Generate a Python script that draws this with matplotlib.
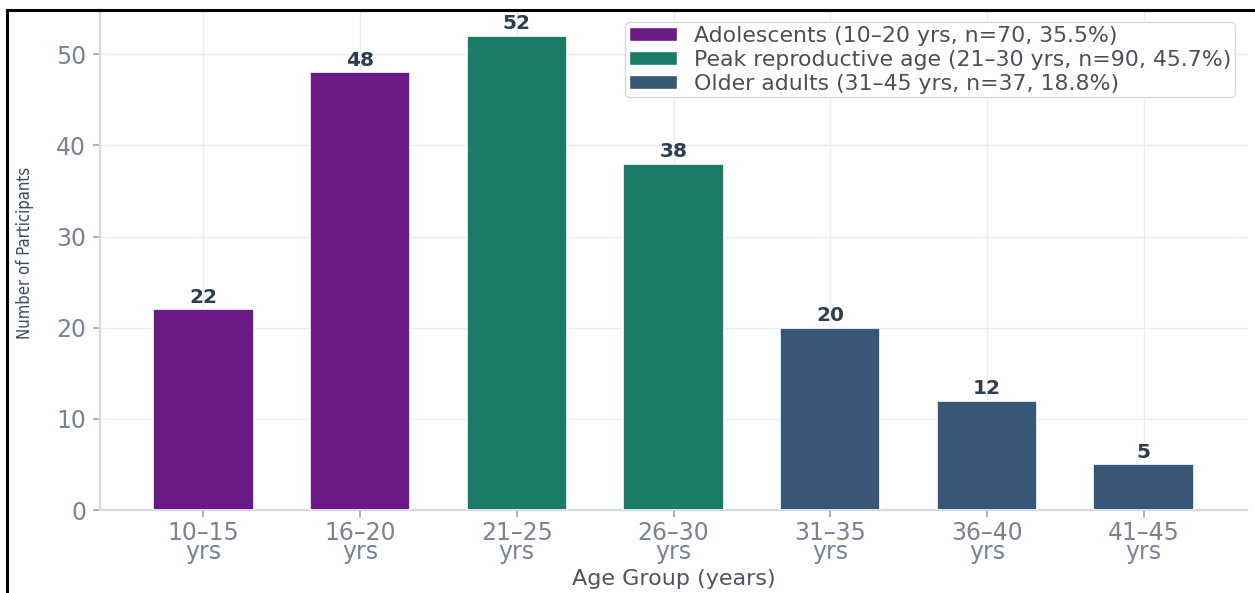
import matplotlib
matplotlib.use("Agg")
import matplotlib.pyplot as plt
import matplotlib.font_manager as fm
from matplotlib.lines import Line2D
from matplotlib.patches import Patch

# --- data ---
age_groups = ["10–15\nyrs", "16–20\nyrs", "21–25\nyrs", "26–30\nyrs",
              "31–35\nyrs", "36–40\nyrs", "41–45\nyrs"]
counts = [22, 48, 52, 38, 20, 12, 5]
group_of_bar = [0, 0, 1, 1, 2, 2, 2]

group_names = [
    "Adolescents (10–20 yrs, n=70, 35.5%)",
    "Peak reproductive age (21–30 yrs, n=90, 45.7%)",
    "Older adults (31–45 yrs, n=37, 18.8%)",
]
group_colors = ["#6a1a86", "#1b7a68", "#385776"]
y_ticks = [0, 10, 20, 30, 40, 50]

# pick a narrow face for the y label
fonts = fm.fontManager.ttflist
names = {f.name for f in fonts}
has_condensed = any(f.name == "DejaVu Sans" and f.stretch == "condensed"
                    for f in fonts)
if "Liberation Sans Narrow" in names:
    ylab_kw = dict(family="Liberation Sans Narrow", fontsize=14.5)
elif has_condensed:
    ylab_kw = dict(family="DejaVu Sans", stretch="condensed", fontsize=12)
else:
    ylab_kw = dict(family="DejaVu Sans", fontsize=11)

plt.rcParams["font.family"] = ["DejaVu Sans"]

fig = plt.figure(figsize=(12.55, 5.93), dpi=100)
ax = fig.add_axes([100 / 1255, 83 / 593, 1147 / 1255, 500 / 593])

x = list(range(len(counts)))
colors = [group_colors[g] for g in group_of_bar]
bars = ax.bar(x, counts, width=0.64, color=colors, edgecolor="white",
              linewidth=1.2, zorder=3)

# value labels on top of each bar
for b, v in zip(bars, counts):
    ax.annotate(str(v), (b.get_x() + b.get_width() / 2, v),
                xytext=(0, 2), textcoords="offset points",
                ha="center", va="bottom", fontsize=14.5, fontweight="bold",
                color="#2c3e50", zorder=4)

ax.set_xlim(-0.66, 6.66)
ax.set_ylim(0, 54.85)
ax.set_xticks(x)
ax.set_xticklabels(age_groups, linespacing=0.75)
ax.set_yticks(y_ticks)

ax.tick_params(axis="both", labelsize=17, labelcolor="#7b8391",
               color="#9aa3ae", length=5, width=1.2, pad=5)
ax.tick_params(axis="x", pad=3)

ax.grid(True, color="#e9edf3", linewidth=1.0)
ax.set_axisbelow(True)
for side in ["top", "right"]:
    ax.spines[side].set_visible(False)
for side in ["left", "bottom"]:
    ax.spines[side].set_color("#d3dae3")
    ax.spines[side].set_linewidth(1.6)

ax.set_xlabel("Age Group (years)", fontsize=16, color="#4b5563", labelpad=3)
ax.set_ylabel("Number of Participants", color="#3b4a5e", **ylab_kw)
ax.yaxis.set_label_coords(-66 / 1147, 0.515)

handles = [Patch(facecolor=c, edgecolor="white") for c in group_colors]
leg = ax.legend(handles, group_names, loc="upper right", fontsize=15.8,
                handlelength=2.2, handleheight=0.55, handletextpad=0.75,
                labelspacing=0.18, borderpad=0.17, borderaxespad=0.55,
                frameon=True, framealpha=1, edgecolor="#d6d9de")
for t in leg.get_texts():
    t.set_color("#4a4f5a")

# black frame along top and left
fig.add_artist(Line2D([7 / 1255, 1], [1 - 10 / 593, 1 - 10 / 593],
                      color="black", linewidth=2.2))
fig.add_artist(Line2D([7 / 1255, 7 / 1255], [0, 1 - 10 / 593],
                      color="black", linewidth=2.2))

fig.savefig("out.png", dpi=100)
